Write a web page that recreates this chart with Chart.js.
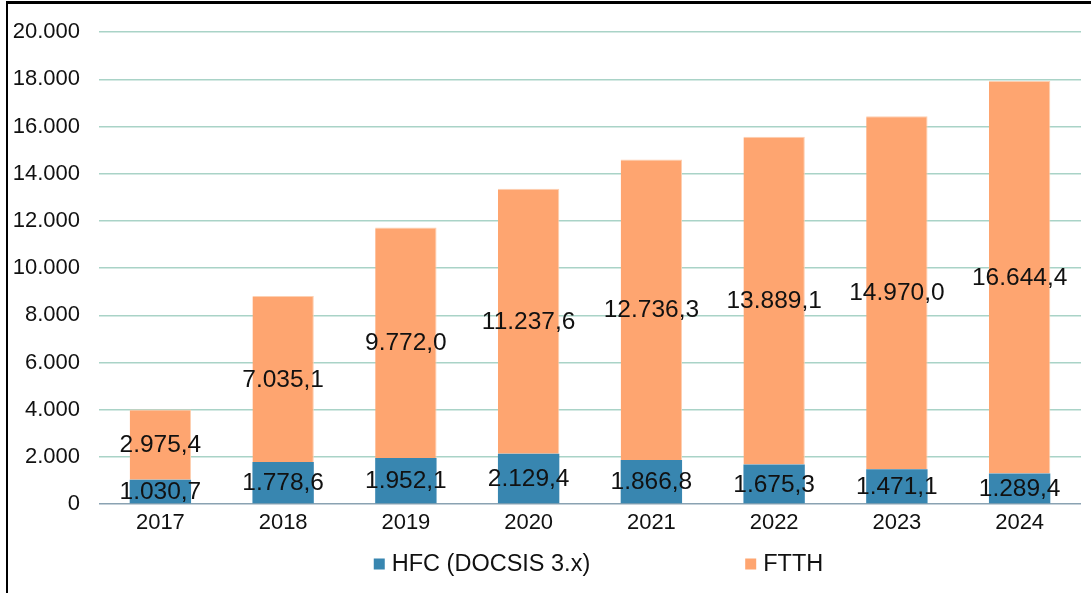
<!DOCTYPE html>
<html>
<head>
<meta charset="utf-8">
<script src="https://cdn.jsdelivr.net/npm/chart.js@4/dist/chart.umd.min.js"></script>
<style>
  html, body { margin: 0; padding: 0; background: #fff; overflow: hidden; }
  #wrap { position: relative; width: 1091px; height: 593px; }
  #frame { position: absolute; left: 6px; top: 1px; right: 0; bottom: 0; border-top: 3px solid #000; border-left: 2px solid #000; pointer-events: none; }
  canvas { position: absolute; left: 0; top: 0; }
</style>
</head>
<body>
<div id="wrap">
  <canvas id="c" width="1091" height="593"></canvas>
  <div id="frame"></div>
</div>
<script>
const categories = ['2017', '2018', '2019', '2020', '2021', '2022', '2023', '2024'];
const hfcValues = [1030.7, 1778.6, 1952.1, 2129.4, 1866.8, 1675.3, 1471.1, 1289.4];
const ftthValues = [2975.4, 7035.1, 9772.0, 11237.6, 12736.3, 13889.1, 14970.0, 16644.4];
const seriesNames = ['HFC (DOCSIS 3.x)', 'FTTH'];
const yTicks = [0, 2000, 4000, 6000, 8000, 10000, 12000, 14000, 16000, 18000, 20000];

const FONT = 'Arial, "Liberation Sans", sans-serif';

function groupThousands(intStr) {
  return intStr.replace(/\B(?=(\d{3})+(?!\d))/g, '.');
}
function fmtDec(v) {
  const s = v.toFixed(1);
  const parts = s.split('.');
  return groupThousands(parts[0]) + ',' + parts[1];
}
function fmtInt(v) {
  return groupThousands(String(Math.round(v)));
}

const dataLabelPlugin = {
  id: 'dataLabels',
  afterDatasetsDraw(chart) {
    const ctx = chart.ctx;
    ctx.save();
    ctx.font = '24.5px ' + FONT;
    ctx.fillStyle = '#111';
    ctx.textAlign = 'center';
    ctx.textBaseline = 'middle';
    chart.data.datasets.forEach((ds, di) => {
      const meta = chart.getDatasetMeta(di);
      meta.data.forEach((bar, i) => {
        const p = bar.getProps(['x', 'y', 'base'], true);
        const yc = (p.y + p.base) / 2;
        ctx.fillText(fmtDec(ds.data[i]), p.x, yc + 1);
      });
    });
    ctx.restore();
  }
};

const legendPlugin = {
  id: 'customLegend',
  afterDraw(chart) {
    const ctx = chart.ctx;
    ctx.save();
    ctx.font = '23.5px ' + FONT;
    ctx.textBaseline = 'middle';
    ctx.textAlign = 'left';
    const box = 11, boxGap = 7, itemGap = 155;
    const items = chart.data.datasets.map(ds => ({
      text: ds.label, color: ds.backgroundColor,
      w: box + boxGap + ctx.measureText(ds.label).width
    }));
    const total = items.reduce((a, it) => a + it.w, 0) + itemGap * (items.length - 1);
    let x = 598.5 - total / 2;
    const y = 564;
    items.forEach(it => {
      ctx.fillStyle = it.color;
      ctx.fillRect(x, y - box / 2, box, box);
      ctx.fillStyle = '#111';
      ctx.fillText(it.text, x + box + boxGap, y + 1);
      x += it.w + itemGap;
    });
    ctx.restore();
  }
};

new Chart(document.getElementById('c'), {
  type: 'bar',
  data: {
    labels: categories,
    datasets: [
      { label: seriesNames[0], data: hfcValues, backgroundColor: '#3886b0', borderWidth: 0, categoryPercentage: 1.0, barPercentage: 0.5 },
      { label: seriesNames[1], data: ftthValues, backgroundColor: '#fea570', borderColor: '#fdd0b2', borderWidth: { left: 0, right: 1, top: 1, bottom: 0 }, categoryPercentage: 1.0, barPercentage: 0.5 }
    ]
  },
  options: {
    responsive: false,
    animation: false,
    devicePixelRatio: 1,
    layout: { padding: { left: 0, right: 10, top: 32, bottom: 0 } },
    plugins: {
      legend: { display: false },
      tooltip: { enabled: false }
    },
    scales: {
      x: {
        stacked: true,
        grid: { display: false, drawTicks: false },
        border: { display: false },
        ticks: { color: '#111', font: { family: FONT, size: 22 }, padding: 6 },
        afterFit(scale) { scale.height = 89; }
      },
      y: {
        stacked: true,
        min: 0,
        max: 20000,
        afterBuildTicks(scale) { scale.ticks = yTicks.map(v => ({ value: v })); },
        grid: {
          drawTicks: false,
          lineWidth: 1.5,
          color(ctx) { return ctx.tick && ctx.tick.value === 0 ? '#8aa2b2' : '#a9d3c7'; }
        },
        border: { display: false },
        ticks: {
          color: '#111',
          font: { family: FONT, size: 22 },
          padding: 19,
          callback(v) { return fmtInt(v); }
        },
        afterFit(scale) { scale.width = 99; }
      }
    }
  },
  plugins: [dataLabelPlugin, legendPlugin]
});
</script>
</body>
</html>
